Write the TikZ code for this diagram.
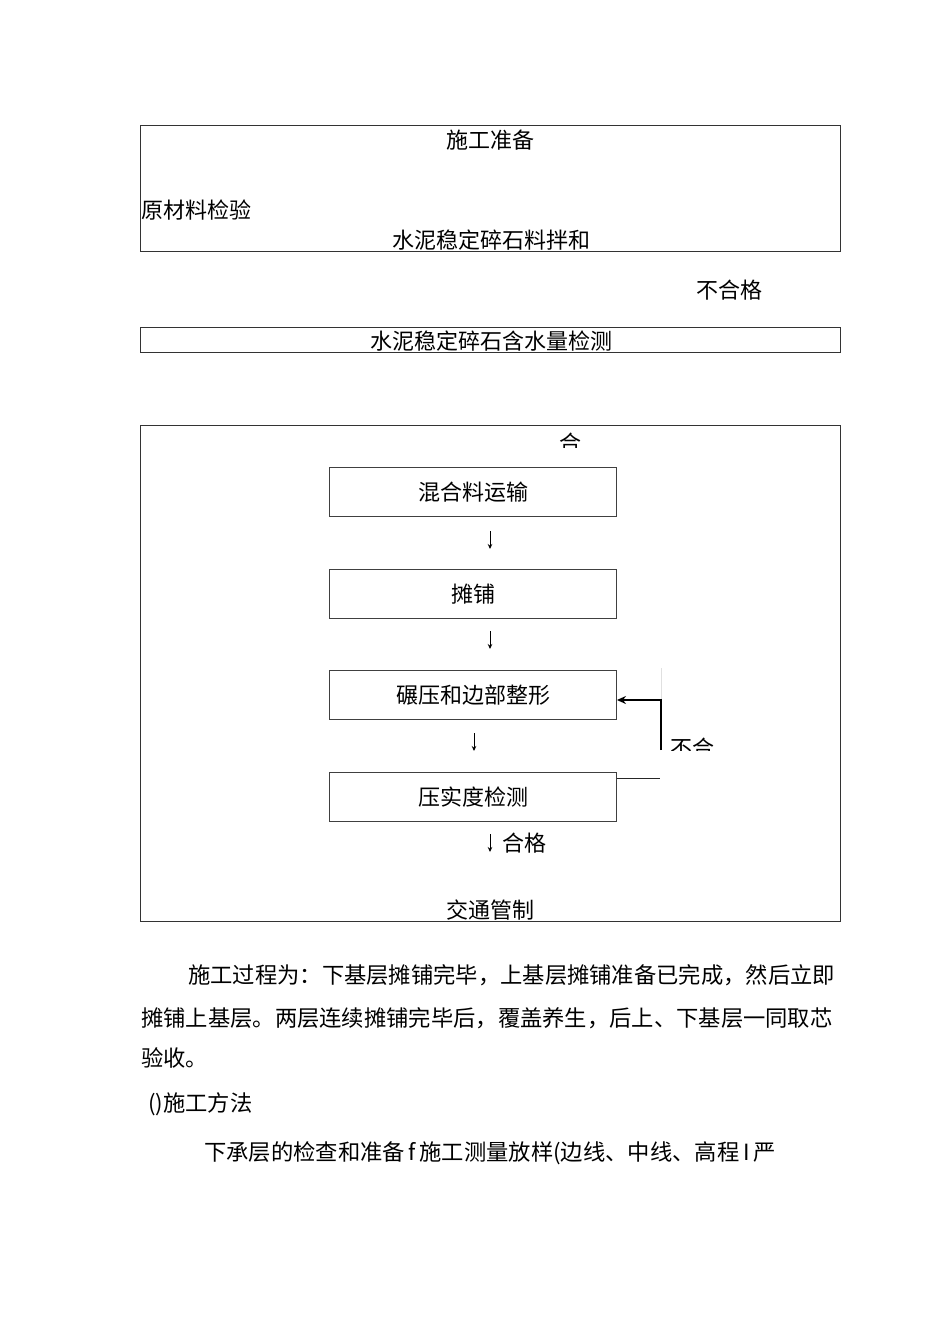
\documentclass[tikz,border=0pt]{standalone}
\usepackage{fontspec}
\newfontfamily\cjk{Noto Sans CJK SC}
\usetikzlibrary{arrows.meta}
\begin{document}
\begin{tikzpicture}[x=1pt,y=-1pt,
  frame/.style={draw=black!80,line width=0.9pt,inner sep=0pt,anchor=north west},
  stepbox/.style={draw=black!75,line width=0.9pt,inner sep=0pt,minimum width=287pt,minimum height=49pt,font=\cjk\fontsize{22}{26}\selectfont},
  lbl/.style={font=\cjk\fontsize{22}{26}\selectfont,inner sep=0pt},
  body/.style={font=\cjk\fontsize{22.3}{26}\selectfont,inner sep=0pt,anchor=west},
  smallarrow/.style={line width=0.9pt,-{Stealth[length=5pt,width=4.5pt]}},
  feedback/.style={line width=1.6pt,-{Stealth[length=9pt,width=8pt]}},
  thinline/.style={line width=0.8pt,black!85}]
\useasboundingbox (0,0) rectangle (950,1344);
\fill[white] (0,0) rectangle (950,1344);

% top frame
\node[frame,minimum width=700pt,minimum height=126pt] (top) at (140,125) {};
\node[lbl] (prep) at (490,140) {施工准备};
\node[lbl,anchor=west] (raw) at (141,210) {原材料检验};
\node[lbl] (mix) at (491,240) {水泥稳定碎石料拌和};
\node[lbl] (ng1) at (729,290) {不合格};

% moisture frame
\node[frame,minimum width=700pt,minimum height=25pt] (moist) at (140,327) {};
\node[lbl] (moisttxt) at (491,341) {水泥稳定碎石含水量检测};

% big frame
\node[frame,minimum width=700pt,minimum height=496pt] (big) at (140,425) {};
\begin{scope}
  \clip (520,426) rectangle (640,447);
  \node[lbl] (ok0) at (570,443) {合};
\end{scope}

\node[stepbox] (b1) at (473,492) {混合料运输};
\node[stepbox] (b2) at (473,594) {摊铺};
\node[stepbox] (b3) at (473,695) {碾压和边部整形};
\node[stepbox] (b4) at (473,797) {压实度检测};

\coordinate (a1s) at (490,531); \coordinate (a1e) at (490,549);
\coordinate (a2s) at (490,631); \coordinate (a2e) at (490,649);
\coordinate (a3s) at (474,733); \coordinate (a3e) at (474,751);
\coordinate (a4s) at (490,834); \coordinate (a4e) at (490,852);
\draw[smallarrow] (a1s) -- (a1e);
\draw[smallarrow] (a2s) -- (a2e);
\draw[smallarrow] (a3s) -- (a3e);
\draw[smallarrow] (a4s) -- (a4e);
\node[lbl,anchor=west] (ok1) at (502,843) {合格};

% feedback loop
\coordinate (fbtop) at (661,700);
\coordinate (fbbot) at (661,750);
\coordinate (fbfaint) at (661,668);
\coordinate (fbh) at (660,778);
\draw[black!12,line width=0.6pt] (fbtop) -- (fbfaint);
\draw[feedback] (fbbot) -- (fbtop) -- (fbtop -| b3.east);
\draw[thinline] (fbh -| b4.east) -- (fbh);
\begin{scope}
  \clip (665,725) rectangle (730,750);
  \node[lbl,anchor=west] (ng2) at (670,748) {不合};
\end{scope}

\begin{scope}
  \clip (300,890) rectangle (700,920.5);
  \node[lbl] (traffic) at (490,910) {交通管制};
\end{scope}

% body text
\node[body] (p1) at (188,975) {施工过程为：下基层摊铺完毕，上基层摊铺准备已完成，然后立即};
\node[body] (p2) at (141,1018) {摊铺上基层。两层连续摊铺完毕后，覆盖养生，后上、下基层一同取芯};
\node[body] (p3) at (141,1058) {验收。};
\node[body] (p4) at (148,1104) {()施工方法};
\node[body] (p5) at (204,1153) {下承层的检查和准备\,f\,施工测量放样(边线、中线、高程\,I\,严};
\end{tikzpicture}
\end{document}
